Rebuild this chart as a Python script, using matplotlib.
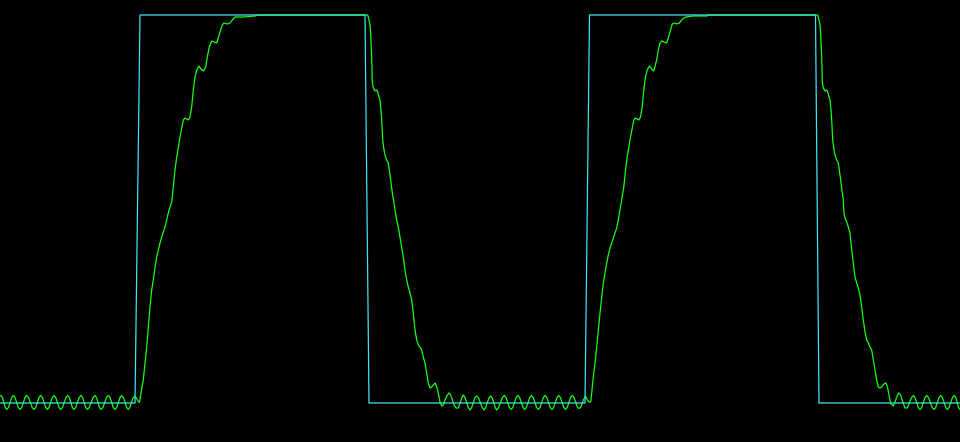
import matplotlib
matplotlib.use("Agg")
import matplotlib.pyplot as plt

# reference square wave (sample index, level in counts)
ref_t = [0, 135, 140, 365, 369, 585, 589.5, 815.5, 819, 960]
ref_v = [0, 0, 388, 388, 0, 0, 388, 388, 0, 0]

# filtered output as (sample, level)
low_1 = [
    (0, 7), (1, 7.5), (2.4, 5.5), (3.9, 0.5), (5.3, -4.5), (6.7, -6.5), (8.4, -4.5),
    (10, 0.5), (11.7, 5.5), (13.3, 7.5), (15, 5.5), (16.7, 0.5), (18.3, -4.5),
    (20, -6.5), (21.7, -4.5), (23.3, 0.5), (25, 5.5), (26.7, 7.5), (28.5, 5.5),
    (30.4, 0.5), (32.2, -4.5), (34, -6.5), (35.7, -4.5), (37.4, 0.5), (39, 5.5),
    (40.7, 7.5), (42.4, 5.5), (44, 0.5), (45.7, -4.5), (47.3, -6.5), (49, -4.5),
    (50.7, 0.5), (52.3, 5.5), (54, 7.5), (55.7, 5.5), (57.4, 0.5), (59, -4.5),
    (60.7, -6.5), (62.5, -4.5), (64.2, 0.5), (66, 5.5), (67.7, 7.5), (69.3, 5.5),
    (70.9, 0.5), (72.4, -4.5), (74, -6.5), (75.7, -4.5), (77.5, 0.5), (79.2, 5.5),
    (81, 7.5), (82.6, 5.5), (84.2, 0.5), (85.7, -4.5), (87.3, -6.5), (89.2, -4.5),
    (91.2, 0.5), (93.1, 5.5), (95, 7.5), (96.5, 5.5), (98, 0.5), (99.5, -4.5),
    (101, -6.5), (102.9, -4.5), (104.7, 0.5), (106.5, 5.5), (108.3, 7.5), (110, 5.5),
    (111.7, 0.5), (113.3, -4.5), (115, -6.5), (116.7, -4.5), (118.4, 0.5), (120, 5.5),
    (121.7, 7.5), (123.4, 5.5), (125, 0.5), (126.7, -4.5), (128.3, -6.5), (130, -4),
    (131.5, 1), (133, 5), (134.5, 6.5), (136, 5.5), (138, 2), (139.5, 0.5),
]
rise_1 = [
    (141, 10), (143.3, 23), (145, 40), (146.7, 56), (148.3, 76), (150, 96),
    (151.7, 113), (153.3, 123), (155, 136), (156.7, 146), (158.3, 153), (160, 160),
    (161.7, 166), (163.3, 171), (165, 176), (166.7, 183), (168.3, 190), (170, 196),
    (171.7, 201), (173.3, 216), (175, 233), (176.7, 246), (178.3, 256), (180, 266),
    (181.7, 275), (183.3, 283), (185, 285), (188.3, 283), (190, 286), (191.7, 296),
    (193.3, 313), (195, 326), (196.7, 333), (199, 337), (201, 334), (203.3, 332),
    (205.7, 336), (207.3, 346), (209.3, 356), (211.7, 362), (214, 361), (216.7, 360),
    (218.3, 365), (220, 371), (222.3, 378), (224, 380), (227.3, 379), (230, 380),
    (232.3, 383), (235, 386), (243.3, 386), (255, 387), (258, 388),
]
fall_1 = [
    (367.7, 388), (369, 383), (370, 378), (370.7, 370), (371, 360), (371.7, 346),
    (372.3, 321), (373.3, 315), (375, 312), (376.7, 313), (377.7, 311), (379, 306),
    (380, 303), (381, 293), (381.7, 283), (382.7, 263), (384, 253), (385, 248),
    (386.7, 243), (388.3, 240), (389.3, 233), (390.7, 223), (392.3, 210), (394, 200),
    (395, 193), (396.7, 183), (398.3, 176), (400, 166), (401.7, 156), (403.3, 146),
    (405, 133), (406.7, 123), (408.3, 116), (410, 110), (411.7, 103), (413.3, 90),
    (415, 73), (416.7, 63), (418.3, 58), (420, 56), (421.7, 53), (423.3, 46),
    (425, 40), (426.7, 30), (428.3, 20), (430, 15), (431.7, 16), (433.3, 18),
    (435, 20), (436.7, 16), (438.3, 10), (440, 1), (441.7, -3), (443.3, -2),
    (445, 3), (446.7, 7), (449, 10), (450.7, 8), (452.3, 3), (454, -2), (456, -5),
    (458.3, -5),
]
low_2 = [
    (460, 0), (461.7, 5), (463.3, 8), (465, 5.5), (466.7, 0.5), (468.3, -4.5),
    (470, -7), (471.7, -4.5), (473.3, 0.5), (475, 5.5), (476.7, 7), (478.5, 5),
    (480.3, 0.5), (482.2, -4.5), (484, -7), (485.7, -4.5), (487.3, 0.5), (489, 5),
    (490.7, 7), (492.2, 5), (493.7, 0.5), (495.2, -4.5), (496.7, -7), (498.6, -4.5),
    (500.5, 0.5), (502.4, 5.5), (504.3, 7.5), (506, 5.5), (507.7, 0.5), (509.4, -4.5),
    (511.1, -6.5), (512.8, -4.5), (514.5, 0.5), (516.2, 5.5), (517.9, 7.5),
    (519.6, 5.5), (521.3, 0.5), (523, -4.5), (524.7, -6.5), (526.4, -4.5),
    (528.1, 0.5), (529.8, 5.5), (531.5, 7.5), (533.2, 5.5), (534.9, 0.5),
    (536.6, -4.5), (538.3, -6.5), (540, -4.5), (541.7, 0.5), (543.4, 5.5),
    (545.1, 7.5), (546.8, 5.5), (548.5, 0.5), (550.2, -4.5), (551.9, -6.5),
    (553.6, -4.5), (555.3, 0.5), (557, 5.5), (558.7, 7.5), (560.4, 5.5), (562.1, 0.5),
    (563.8, -4.5), (565.5, -6.5), (567.2, -4.5), (568.9, 0.5), (570.6, 5.5),
    (572.3, 7.5), (574, 5.5), (575.7, 0.5), (577.3, -4), (579, -5.5), (580.5, -4.5),
    (581.7, -2), (583.3, 3), (585, 6), (586, 6), (587.3, 3), (589, 1), (590.7, 1),
]
rise_2 = [
    (591.7, 10), (593.3, 26), (595, 40), (596.7, 56), (598.3, 73), (600, 90),
    (601.7, 106), (603.3, 120), (605, 130), (606.7, 140), (608.3, 148), (610, 155),
    (611.7, 160), (613.3, 165), (615, 170), (616.7, 175), (618.3, 183), (620, 193),
    (621.7, 203), (623.8, 216), (625.5, 233), (627.2, 246), (628.8, 256),
    (630.5, 266), (632.2, 275), (633.8, 283), (635.5, 285), (638.8, 283),
    (640.5, 286), (642.2, 296), (643.8, 313), (645.5, 326), (647.2, 333),
    (649.5, 337), (651.5, 334), (653.8, 332), (656.7, 343), (658.3, 353), (660, 360),
    (661.7, 362), (664, 361), (666.7, 360), (668.3, 365), (670, 371), (672.3, 379),
    (674.3, 380), (676.7, 379), (679.3, 380), (681.7, 383), (684, 385), (686, 386),
    (693.3, 387), (706.7, 387), (709, 388),
]
fall_2 = [
    (817.7, 388), (819, 383), (820, 378), (820.7, 370), (821, 360), (821.7, 346),
    (822.3, 321), (823.3, 315), (825, 312), (826.7, 313), (827.7, 311), (829, 306),
    (830, 303), (831, 293), (831.7, 283), (832.7, 263), (834, 253), (835, 248),
    (836.7, 243), (838.3, 240), (839.3, 233), (840.7, 223), (842.3, 210),
    (843.3, 203), (844, 190), (845, 185), (846.7, 181), (848.3, 176), (850, 170),
    (851.7, 153), (853.3, 140), (855, 126), (856.7, 120), (858.3, 115), (860, 108),
    (861.7, 96), (863.3, 83), (865, 71), (866.7, 63), (868.3, 60), (870, 56),
    (871.7, 53), (873.3, 43), (875, 33), (876.7, 23), (878.3, 16), (880, 15),
    (881.7, 16), (884, 19), (886, 20), (887.7, 15), (889.3, 6), (891, -1),
    (893.3, -3), (895, 1), (896.7, 6), (898.7, 10), (900.7, 8), (902.7, 1),
    (905, -5), (907.3, -5),
]
low_3 = [
    (909.3, 0), (911.3, 5), (913.3, 7.5), (915, 5.5), (916.7, 0.5), (918.3, -4.5),
    (920, -6.5), (921.7, -4.5), (923.3, 0.5), (925, 5.5), (926.7, 7.5), (928.5, 5.5),
    (930.4, 0.5), (932.2, -4.5), (934, -6.5), (935.7, -4.5), (937.4, 0.5), (939, 5.5),
    (940.7, 7.5), (942.4, 5.5), (944, 0.5), (945.7, -4.5), (947.3, -6.5), (949, -4.5),
    (950.8, 0.5), (952.5, 5.5), (954.3, 7.5), (955.8, 5.5), (957.2, 0.5),
    (958.6, -4.5), (960, -6.5),
]

out = low_1 + rise_1 + fall_1 + low_2 + rise_2 + fall_2 + low_3
out_t = [p[0] for p in out]
out_v = [p[1] for p in out]

fig = plt.figure(figsize=(9.6, 4.42), dpi=100, facecolor="black")
ax = fig.add_axes([0, 0, 1, 1], facecolor="black")

ax.plot(out_t, out_v, color="#14ff14", lw=0.9, zorder=2)
ax.plot(ref_t, ref_v, color="#3fe3f0", lw=0.9, zorder=3)

ax.set_xlim(0, 960)
ax.set_ylim(-39, 403)
ax.axis("off")

fig.savefig("out.png", dpi=100, facecolor="black")
